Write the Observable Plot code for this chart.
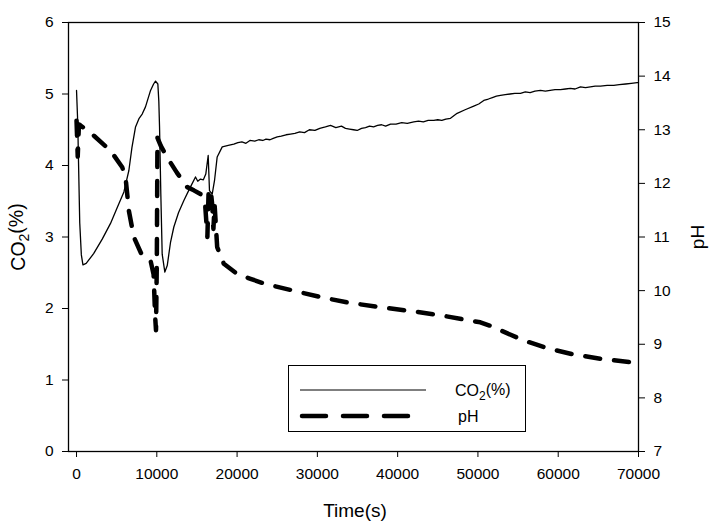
<!DOCTYPE html>
<html>
<head>
<meta charset="utf-8">
<script src="https://cdn.jsdelivr.net/npm/d3@7"></script>
<script src="https://cdn.jsdelivr.net/npm/@observablehq/plot@0.6"></script>
<style>
  html, body { margin: 0; padding: 0; background: #fff; }
  #wrap { position: relative; width: 712px; height: 532px; font-family: "Liberation Sans", Arial, sans-serif; }
  #legend { position: absolute; left: 288px; top: 365px; width: 238px; height: 67px; border: 1.3px solid #000; box-sizing: border-box; background: #fff; }
  #legend svg { position: absolute; left: 0; top: 0; }
</style>
</head>
<body>
<div id="wrap"></div>
<script>
// ---- data ----
const xTicks = [0, 10000, 20000, 30000, 40000, 50000, 60000, 70000];
const co2Ticks = [0, 1, 2, 3, 4, 5, 6];
const phTicks = [7, 8, 9, 10, 11, 12, 13, 14, 15];

const co2Time = [0, 150, 400, 600, 800, 1200, 2150, 3200, 4235, 5100, 5900, 6520, 6900, 7350, 7800, 8180, 8590, 9220, 9600, 9840, 10130, 10250, 10340, 10500, 10670, 11000, 11300, 11700, 12120, 12700, 13370, 14100, 14820, 15100, 15440, 15800, 16100, 16400, 16560, 16900, 17200, 17520, 18150, 18900, 19590, 20100, 20600, 21100, 21600, 22200, 22700, 23200, 23600, 24100, 24500, 25000, 25500, 26100, 26650, 27200, 27800, 28400, 29000, 29700, 30300, 31000, 31640, 32300, 33000, 33500, 34000, 34500, 34960, 35500, 36000, 36500, 37000, 37500, 38000, 38500, 39110, 39800, 40500, 41200, 42010, 42600, 43200, 43800, 44500, 45000, 45500, 46000, 46580, 47410, 48400, 49480, 50100, 50730, 51300, 51800, 52300, 52810, 53400, 54000, 54600, 55300, 55900, 56500, 57100, 57790, 58400, 59000, 59600, 60280, 60900, 61500, 62100, 62770, 63400, 64000, 64600, 65260, 66100, 66920, 67600, 68400, 69100, 69830, 70000];
const co2Values = [5.05, 4.6, 3.2, 2.75, 2.61, 2.63, 2.77, 2.97, 3.19, 3.42, 3.63, 3.93, 4.25, 4.54, 4.66, 4.72, 4.82, 5.05, 5.14, 5.18, 5.14, 4.9, 4.54, 3.6, 2.76, 2.51, 2.6, 2.92, 3.14, 3.34, 3.51, 3.68, 3.84, 3.78, 3.81, 3.8, 3.88, 4.14, 3.65, 3.6, 3.8, 4.12, 4.26, 4.28, 4.3, 4.32, 4.33, 4.31, 4.35, 4.34, 4.36, 4.35, 4.37, 4.36, 4.38, 4.4, 4.41, 4.43, 4.44, 4.45, 4.47, 4.46, 4.5, 4.49, 4.52, 4.54, 4.56, 4.53, 4.55, 4.52, 4.51, 4.5, 4.49, 4.52, 4.53, 4.55, 4.54, 4.56, 4.57, 4.55, 4.58, 4.58, 4.6, 4.59, 4.61, 4.62, 4.61, 4.63, 4.63, 4.64, 4.63, 4.65, 4.66, 4.73, 4.78, 4.83, 4.86, 4.91, 4.93, 4.95, 4.97, 4.98, 4.99, 5.0, 5.01, 5.01, 5.03, 5.02, 5.04, 5.05, 5.04, 5.05, 5.06, 5.06, 5.07, 5.08, 5.07, 5.1, 5.09, 5.1, 5.11, 5.11, 5.12, 5.12, 5.13, 5.14, 5.15, 5.16, 5.16];

const phTime = [0, 150, 300, 500, 2150, 4235, 5690, 6100, 6520, 7140, 8180, 9220, 9600, 9800, 9900, 10000, 10080, 10500, 11270, 12500, 13790, 14610, 15440, 16000, 16300, 16450, 16700, 16900, 17050, 17200, 17520, 18350, 20010, 21670, 23400, 27280, 30390, 33710, 37860, 41600, 45330, 49070, 50300, 52000, 52810, 55710, 59030, 61930, 65260, 69830, 70000];
const phValues = [13.17, 12.5, 13.1, 13.08, 12.89, 12.61, 12.3, 12.12, 11.49, 11.0, 10.65, 10.56, 10.3, 9.5, 9.26, 10.5, 12.85, 12.7, 12.49, 12.2, 11.93, 11.87, 11.8, 11.65, 11.0, 11.85, 11.9, 11.6, 11.15, 11.6, 10.81, 10.5, 10.31, 10.22, 10.13, 9.99, 9.88, 9.78, 9.69, 9.62, 9.54, 9.44, 9.41, 9.32, 9.26, 9.07, 8.91, 8.81, 8.73, 8.65, 8.64];

// ---- build ----
const co2Data = co2Time.map((t, i) => ({t, v: co2Values[i]}));
const phData = phTime.map((t, i) => ({t, v: phValues[i]}));
// pH axis (7..15) shares the plot's vertical extent with CO2 (0..6)
const phToY = p => (p - 7) * 6 / 8;
const yToPh = y => y * 8 / 6 + 7;

const FONT = "'Liberation Sans', Arial, sans-serif";

const chart = Plot.plot({
  width: 712,
  height: 532,
  marginLeft: 68,
  marginRight: 74,
  marginTop: 22,
  marginBottom: 81,
  style: {fontFamily: FONT, fontSize: "15.5px", background: "#fff", color: "#000"},
  x: {domain: [-1000, 70000]},
  y: {domain: [0, 6]},
  marks: [
    Plot.frame({stroke: "#000", strokeWidth: 1.3}),
    Plot.axisX({ticks: xTicks, tickFormat: d => String(d), tickSize: 6, tickPadding: 10, label: null, fontSize: 15.5}),
    Plot.axisY({ticks: co2Ticks, anchor: "left", tickFormat: d => String(d), tickSize: 6, tickPadding: 9, label: null, fontSize: 15.5}),
    Plot.axisY(phTicks.map(phToY), {anchor: "right", tickFormat: d => String(Math.round(yToPh(d))), tickSize: 6, tickPadding: 9, label: null, fontSize: 15.5}),
    Plot.line(co2Data, {x: "t", y: "v", stroke: "#000", strokeWidth: 1.3}),
    Plot.line(phData, {x: "t", y: d => phToY(d.v), stroke: "#000", strokeWidth: 4.5, strokeDasharray: "15,14", strokeLinecap: "round", strokeLinejoin: "round"})
  ]
});

document.getElementById("wrap").appendChild(chart);

// axis titles
const svg = d3.select(chart);
svg.append("text")
  .attr("x", 355).attr("y", 517)
  .attr("text-anchor", "middle")
  .style("font-family", FONT).style("font-size", "19px").attr("fill", "#000")
  .text("Time(s)");

const co2T = svg.append("text")
  .attr("transform", "translate(25,237) rotate(-90)")
  .attr("text-anchor", "middle")
  .style("font-family", FONT).style("font-size", "19.5px").attr("fill", "#000");
co2T.append("tspan").text("CO");
co2T.append("tspan").attr("dy", "0.3em").style("font-size", "14px").text("2");
co2T.append("tspan").attr("dy", "-0.3em").text("(%)");

svg.append("text")
  .attr("transform", "translate(704,237) rotate(-90)")
  .attr("text-anchor", "middle")
  .style("font-family", FONT).style("font-size", "19px").attr("fill", "#000")
  .text("pH");

// legend (inside the plot area)
const legend = document.createElement("div");
legend.id = "legend";
document.getElementById("wrap").appendChild(legend);
const lsvg = d3.select(legend).append("svg").attr("width", 238).attr("height", 67);
lsvg.append("line").attr("x1", 11).attr("x2", 137).attr("y1", 24).attr("y2", 24).attr("stroke", "#000").attr("stroke-width", 1.2);
lsvg.append("line").attr("x1", 13).attr("x2", 120).attr("y1", 50).attr("y2", 50).attr("stroke", "#000").attr("stroke-width", 4.5)
  .attr("stroke-dasharray", "24,17").attr("stroke-linecap", "round");
const lt = lsvg.append("text").attr("x", 166).attr("y", 30).style("font-family", FONT).style("font-size", "16px").attr("fill", "#000");
lt.append("tspan").text("CO");
lt.append("tspan").attr("dy", "0.3em").style("font-size", "12px").text("2");
lt.append("tspan").attr("dy", "-0.3em").text("(%)");
lsvg.append("text").attr("x", 169).attr("y", 56).style("font-family", FONT).style("font-size", "16px").attr("fill", "#000").text("pH");
</script>
</body>
</html>
